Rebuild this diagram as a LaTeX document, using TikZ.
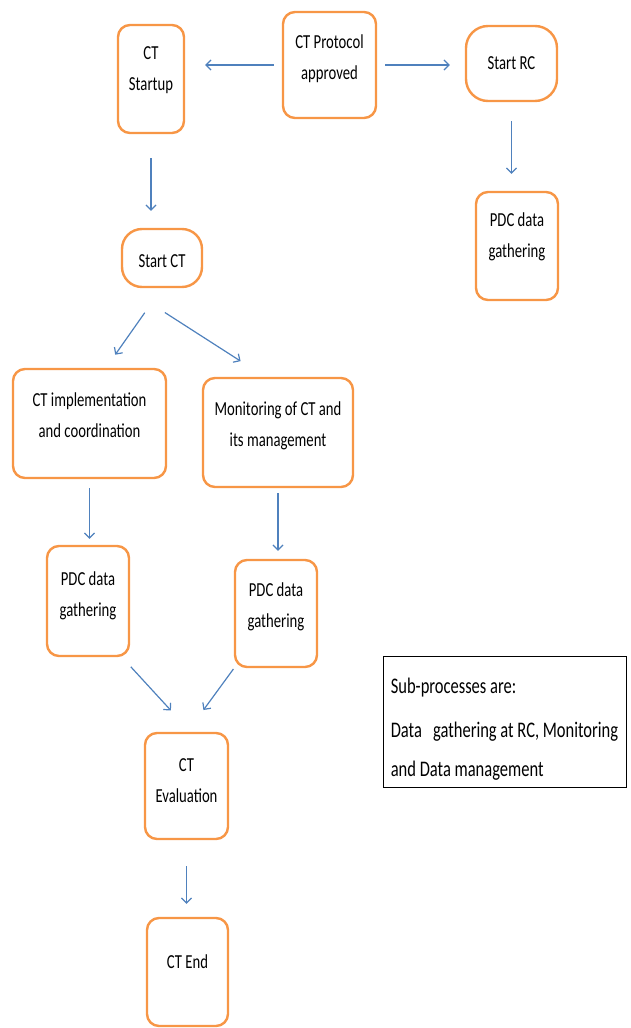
\documentclass[tikz,border=0pt]{standalone}
\usepackage{fontspec}
\setmainfont{Carlito}
\usepackage{graphicx}
\usetikzlibrary{arrows.meta}
\definecolor{boxOrange}{RGB}{247,150,70}
\definecolor{arrowBlue}{RGB}{79,129,189}
\tikzstyle{stepbox} = [draw=boxOrange, line width=2.4pt, rounded corners=12pt, fill=white, inner sep=0pt]
\tikzstyle{roundbox} = [stepbox, rounded corners=22pt]
\tikzstyle{noteBox} = [draw=black, line width=1pt, inner sep=0pt]
\tikzstyle{flowArrow} = [draw=arrowBlue, line width=1.2pt, -{Straight Barb[length=5pt,width=10pt]}]
\newcommand{\boxText}[1]{\scalebox{1}[1.35]{\fontsize{14.7}{23}\selectfont\begin{tabular}{@{}c@{}}#1\end{tabular}}}
\newcommand{\noteText}[1]{\scalebox{1}[1.35]{\fontsize{16.5}{29}\selectfont\begin{tabular}{@{}l@{}}#1\end{tabular}}}

\begin{document}
\begin{tikzpicture}[x=1pt, y=-1pt]
  \useasboundingbox (0,0) rectangle (630,1028);

  % top row
  \node[stepbox, minimum width=66pt, minimum height=108pt,
    label={[name=startupText, yshift=10pt]center:\boxText{CT\\Startup}}] (startup) at (151,79) {};
  \node[stepbox, minimum width=93pt, minimum height=106pt,
    label={[name=protocolText, yshift=7.5pt]center:\boxText{CT Protocol\\approved}}] (protocol) at (329.5,65) {};
  \node[roundbox, minimum width=91pt, minimum height=75pt,
    label={[name=startrcText]center:\boxText{Start RC}}] (startrc) at (511.5,63.5) {};
  \node[stepbox, minimum width=82pt, minimum height=108pt,
    label={[name=pdcrcText, yshift=10pt]center:\boxText{PDC data\\gathering}}] (pdcrc) at (517,246) {};

  % CT branch
  \node[roundbox, rounded corners=20pt, minimum width=80pt, minimum height=58pt,
    label={[name=startctText, yshift=-3pt]center:\boxText{Start CT}}] (startct) at (162,258) {};
  \node[stepbox, minimum width=153pt, minimum height=109pt,
    label={[name=implText, yshift=8pt]center:\boxText{CT implementation\\and coordination}}] (impl) at (89.5,423.5) {};
  \node[stepbox, minimum width=150pt, minimum height=109pt,
    label={[name=monitorText, yshift=7.5pt]center:\boxText{Monitoring of CT and\\its management}}] (monitor) at (278,432.5) {};
  \node[stepbox, minimum width=82pt, minimum height=110pt,
    label={[name=pdclText, yshift=6pt]center:\boxText{PDC data\\gathering}}] (pdcl) at (88,601) {};
  \node[stepbox, minimum width=82pt, minimum height=107pt,
    label={[name=pdcmText, yshift=7.5pt]center:\boxText{PDC data\\gathering}}] (pdcm) at (276,613.5) {};
  \node[stepbox, minimum width=83pt, minimum height=106pt,
    label={[name=evalText, yshift=5.5pt]center:\boxText{CT\\Evaluation}}] (eval) at (186.5,786) {};
  \node[stepbox, minimum width=81pt, minimum height=108pt,
    label={[name=ctendText, yshift=10pt]center:\boxText{CT End}}] (ctend) at (187.5,972) {};

  % legend
  \node[noteBox, minimum width=243pt, minimum height=131pt,
    label={[name=noteText, yshift=-6pt]center:\noteText{Sub-processes are:\\[3.7pt]Data\ \ \ gathering at RC, Monitoring\\and Data management}}] (note) at (504.5,721.5) {};

  % arrows
  \draw[flowArrow, shorten <=8pt, shorten >=20pt] (protocol.west) -- (protocol.west -| startup.east);
  \draw[flowArrow, shorten <=8pt, shorten >=15pt] (protocol.east) -- (protocol.east -| startrc.west);
  \draw[flowArrow, shorten <=19pt, shorten >=17pt] (startrc.south) -- (startrc.south |- pdcrc.north);
  \draw[flowArrow, shorten <=24pt, shorten >=17pt] (startup.south) -- (startup.south |- startct.north);
  \draw[flowArrow, shorten <=30pt, shorten >=16pt] (startct.south) -- ([xshift=16.5pt]impl.north);
  \draw[flowArrow, shorten <=45pt, shorten >=29pt] ([xshift=-35pt]startct.south) -- ([xshift=-13pt]monitor.north);
  \draw[flowArrow, shorten <=9pt, shorten >=6pt] (impl.south) -- (impl.south |- pdcl.north);
  \draw[flowArrow, shorten <=5pt, shorten >=8pt] (monitor.south) -- (monitor.south |- pdcm.north);
  \draw[flowArrow, shorten <=13pt, shorten >=29pt] ([xshift=34pt]pdcl.south) -- ([xshift=4pt]eval.north);
  \draw[flowArrow, shorten <=1pt, shorten >=27pt] ([xshift=-42pt]pdcm.south) -- ([xshift=1pt]eval.north);
  \draw[flowArrow, shorten <=26pt, shorten >=13pt] (eval.south) -- (eval.south |- ctend.north);
\end{tikzpicture}
\end{document}
